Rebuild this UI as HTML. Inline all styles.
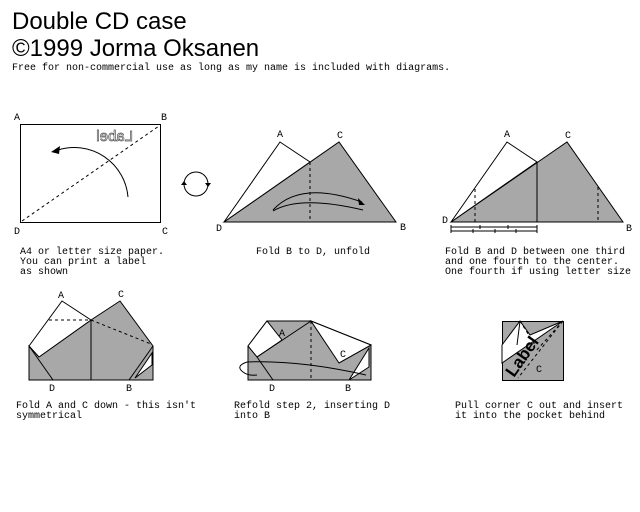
<!DOCTYPE html>
<html><head><meta charset="utf-8"><style>
html,body{margin:0;padding:0;background:#fff;}
svg{display:block;}
.t{font-family:"Liberation Mono",monospace;font-size:10px;fill:#000;}
.g{fill:#a8a8a8;stroke:#000;stroke-width:1;}
.w{fill:#fff;stroke:#000;stroke-width:1;}
.l{fill:none;stroke:#000;stroke-width:1;}
.d{fill:none;stroke:#000;stroke-width:1;stroke-dasharray:3,3;}
</style></head><body>
<svg width="640" height="512" viewBox="0 0 640 512">
<text x="12" y="29" font-family="Liberation Sans,sans-serif" font-size="24">Double CD case</text>
<text x="12" y="56" font-family="Liberation Sans,sans-serif" font-size="24">©1999 Jorma Oksanen</text>
<text class="t" x="12" y="70">Free for non-commercial use as long as my name is included with diagrams.</text>

<g>
<rect x="20.5" y="124.5" width="140" height="98" class="w"/>
<line x1="22" y1="221" x2="159" y2="126" class="d"/>
<text x="0" y="0" transform="translate(133,141) scale(-1,1)" font-family="Liberation Sans,sans-serif" font-size="15" fill="#fff" stroke="#555" stroke-width="0.7">Label</text>
<path d="M128,197 A54,54 0 0 0 58,150" class="l"/>
<polygon points="51,152 60,146 59,154" fill="#000"/>
<text class="t" x="14" y="120">A</text><text class="t" x="161" y="120">B</text>
<text class="t" x="14" y="234">D</text><text class="t" x="162" y="234">C</text>
<text class="t" x="20" y="254">A4 or letter size paper.</text>
<text class="t" x="20" y="264">You can print a label</text>
<text class="t" x="20" y="274">as shown</text>
</g>

<g>
<circle cx="196" cy="184" r="12" class="l"/>
<polygon points="181,185 184,181 187,185" fill="#000"/>
<polygon points="205,183 208,187 211,183" fill="#000"/>
</g>

<g>
<polygon points="224,222 339,142 396,222" class="g"/>
<polygon points="224,222 280,142 310,162" class="w"/>
<line x1="310" y1="162" x2="310" y2="222" class="d"/>
<path d="M273,210 Q300,180 362,202" class="l"/>
<path d="M273,211 Q300,195 363,210" class="l"/>
<polygon points="365,205 358,198 359,205" fill="#000"/>
<text class="t" x="277" y="137">A</text><text class="t" x="337" y="138">C</text>
<text class="t" x="216" y="231">D</text><text class="t" x="400" y="230">B</text>
<text class="t" x="256" y="254">Fold B to D, unfold</text>
</g>

<g>
<polygon points="451,222 567,142 623,222" class="g"/>
<polygon points="451,222 507,142 537,162" class="w"/>
<line x1="537" y1="162" x2="537" y2="222" class="l"/>
<line x1="475" y1="189" x2="475" y2="222" class="d"/>
<line x1="598" y1="187" x2="598" y2="222" class="d"/>
<line x1="451" y1="227" x2="537" y2="227" class="l"/>
<line x1="451" y1="231" x2="537" y2="231" class="l"/>
<path d="M451,225v4M480,225v4M508,225v4M537,225v4M451,229v4M473,229v4M495,229v4M516,229v4M537,229v4" class="l"/>
<text class="t" x="504" y="137">A</text><text class="t" x="565" y="138">C</text>
<text class="t" x="442" y="223">D</text><text class="t" x="626" y="231">B</text>
<text class="t" x="445" y="254">Fold B and D between one third</text>
<text class="t" x="445" y="264">and one fourth to the center.</text>
<text class="t" x="445" y="274">One fourth if using letter size</text>
</g>

<g>
<polygon points="29,346 39,357 91,320 120,301 153,346 153,380 29,380" class="g"/>
<polygon points="29,346 62,301 91,320 39,357" class="w"/>
<line x1="29" y1="346" x2="53" y2="380" class="l"/>
<line x1="91" y1="320" x2="91" y2="380" class="l"/>
<line x1="49" y1="320" x2="91" y2="320" class="d"/>
<line x1="91" y1="320" x2="151" y2="344" class="d"/>
<line x1="129" y1="380" x2="153" y2="346" class="l"/>
<polygon points="135,378 152,353 152,365" class="w"/>
<text class="t" x="58" y="298">A</text><text class="t" x="118" y="297">C</text>
<text class="t" x="49" y="391">D</text><text class="t" x="126" y="391">B</text>
<text class="t" x="16" y="408">Fold A and C down - this isn't</text>
<text class="t" x="16" y="418">symmetrical</text>
</g>

<g>
<polygon points="248,346 267,321 311,321 371,345 371,380 248,380" class="g"/>
<polygon points="248,346 267,321 282,340 257,357" class="w"/>
<polygon points="311,321 371,345 339,363" class="w"/>
<polygon points="349,380 369,348 369,367" class="w"/>
<line x1="257" y1="357" x2="311" y2="321" class="l"/>
<line x1="257" y1="357" x2="273" y2="380" class="l"/>
<line x1="339" y1="363" x2="371" y2="345" class="l"/>
<line x1="311" y1="321" x2="311" y2="380" class="d"/>
<path d="M247,362 Q300,360 366,375" class="l"/>
<path d="M247,362 Q235,366 243,372 Q248,376 257,375" class="l"/>
<text class="t" x="279" y="336">A</text><text class="t" x="340" y="357">C</text>
<text class="t" x="269" y="391">D</text><text class="t" x="345" y="391">B</text>
<text class="t" x="234" y="408">Refold step 2, inserting D</text>
<text class="t" x="234" y="418">into B</text>
</g>

<g>
<rect x="502.5" y="321.5" width="61" height="59" class="g"/>
<polygon points="502,345 520,321 530,335 563,321 502,363" class="w"/>
<line x1="520" y1="321" x2="517" y2="345" class="l"/>
<line x1="520" y1="321" x2="535" y2="345" class="d"/>
<line x1="563" y1="321" x2="535" y2="352" class="d"/>
<line x1="563" y1="321" x2="518" y2="378" class="d"/>
<text x="0" y="0" transform="translate(514,378) rotate(-55)" font-family="Liberation Sans,sans-serif" font-size="17" font-weight="bold" fill="#000">Label</text>
<text class="t" x="536" y="372">C</text>
<text class="t" x="455" y="408">Pull corner C out and insert</text>
<text class="t" x="455" y="418">it into the pocket behind</text>
</g>
</svg>
</body></html>
